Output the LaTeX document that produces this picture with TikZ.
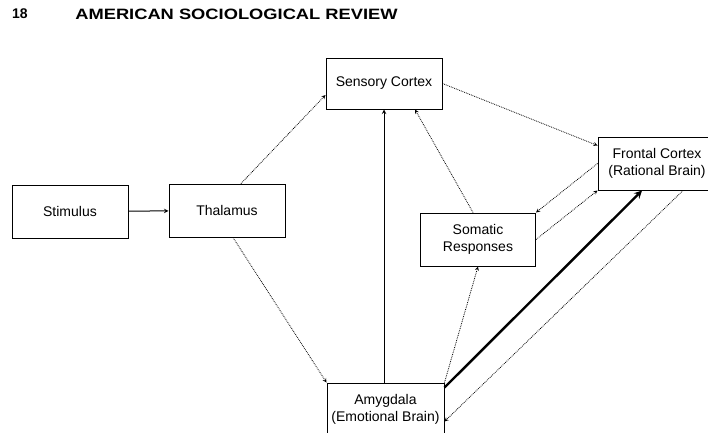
\documentclass[tikz,border=0pt]{standalone}
\usepackage{fontspec}
\setmainfont{Liberation Sans}

\begin{document}
\begin{tikzpicture}[x=1pt,y=-1pt,>=stealth]
\tikzstyle{component}=[rectangle,draw,line width=1pt,minimum width=116pt,minimum height=53pt,inner sep=2pt,align=center,font=\fontsize{14}{17.5}\selectfont]
\tikzstyle{link}=[->,densely dotted,line width=0.8pt]
\useasboundingbox (0,0) rectangle (708,432);
\clip (0,0) rectangle (708,432);

\node(Page) at (20,14){\fontsize{14}{14}\selectfont\bfseries 18};
\node(Journal) at (236.5,14){\scalebox{1.22}[1]{\fontsize{15}{15}\selectfont\bfseries AMERICAN SOCIOLOGICAL REVIEW}};

\node[component](Stimulus) at (70,211.5){Stimulus};
\node[component](Thalamus) at (227,210.5){Thalamus};
\node[component,minimum height=51pt](Sensory) at (384,83.5){Sensory Cortex};
\node[component,minimum width=118pt](Frontal) at (657,163.5){Frontal Cortex\\(Rational Brain)};
\node[component,minimum width=115pt](Somatic) at (478,239.5){Somatic\\Responses};
\node[component,minimum width=117pt](Amygdala) at (385.5,409.5){Amygdala\\(Emotional Brain)};

\draw[->,line width=1pt] (Stimulus) -- (Thalamus);
\draw[link] ([xshift=14pt]Thalamus.north) -- ([yshift=-11.5pt]Sensory.west);
\draw[link] ([xshift=6pt]Thalamus.south) -- (Amygdala.north west);
\draw[->,line width=1pt] (Amygdala.north -| Sensory.south) -- (Sensory.south);
\draw[link] (Sensory.east) -- ([yshift=18pt]Frontal.west);
\draw[link] ([xshift=-5pt]Somatic.north) -- ([xshift=31pt]Sensory.south);
\draw[link] (Frontal.west) -- (Somatic.north east);
\draw[link] (Somatic.east) -- (Frontal.south west);
\draw[link] (Amygdala.north east) -- (Somatic.south);
\draw[->,line width=2.4pt] ([yshift=-5pt]Amygdala.north east) -- ([xshift=-15pt]Frontal.south);
\draw[link] ([xshift=26pt]Frontal.south) -- ([yshift=-12pt]Amygdala.east);

\end{tikzpicture}
\end{document}
